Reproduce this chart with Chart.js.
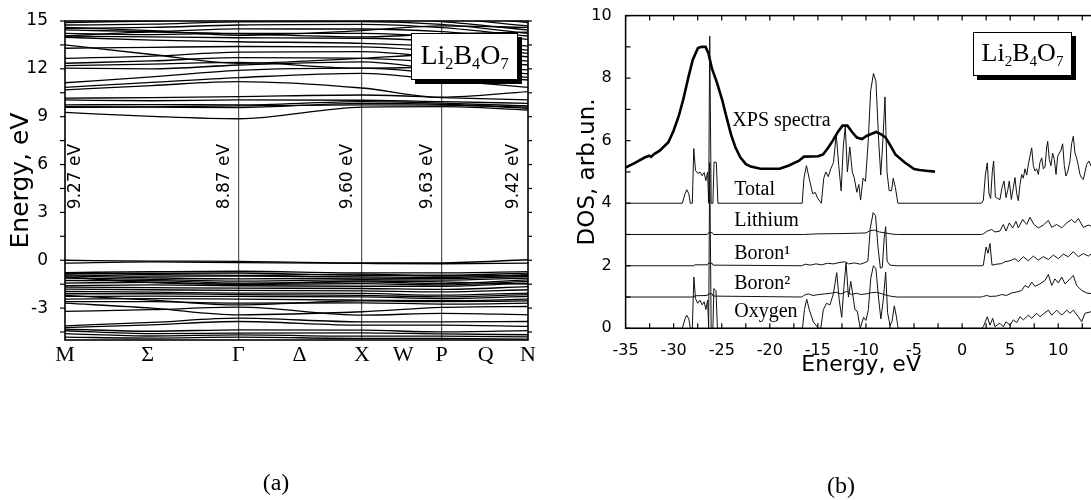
<!DOCTYPE html>
<html lang="en">
<head>
<meta charset="UTF-8">
<title>Li2B4O7 bands and DOS</title>
<script src="https://cdn.jsdelivr.net/npm/chart.js"></script>
<style>
  html, body { margin: 0; padding: 0; background: #fff; }
  body { width: 1091px; height: 500px; overflow: hidden; position: relative; }
  canvas { position: absolute; top: 0; }
  #bandChart { left: 0; }
  #dosChart { left: 545px; }
  .formula {
    position: absolute; box-sizing: border-box; background: #fff;
    border: 1px solid #000; box-shadow: 4px 4px 0 #000;
    font-family: 'Liberation Serif', 'Times New Roman', serif;
    text-align: center; color: #000;
  }
  .formula sub { font-size: 0.58em; vertical-align: baseline; position: relative; top: 0.3em; }
  #fA { left: 411px; top: 33px; width: 107px; height: 47px; font-size: 28px; line-height: 42px; }
  #fB { left: 973px; top: 32px; width: 99px; height: 44px; font-size: 26px; line-height: 39px; }
  .cap { position: absolute; font-family: 'Liberation Serif', 'Times New Roman', serif; font-size: 24px; transform: translate(-50%, -50%); }
  #capA { left: 276px; top: 482px; }
  #capB { left: 841px; top: 485px; }
</style>
</head>
<body>
<canvas id="bandChart" width="545" height="500"></canvas>
<canvas id="dosChart" width="600" height="500"></canvas>
<div class="formula" id="fA">Li<sub>2</sub>B<sub>4</sub>O<sub>7</sub></div>
<div class="formula" id="fB">Li<sub>2</sub>B<sub>4</sub>O<sub>7</sub></div>
<div class="cap" id="capA">(a)</div>
<div class="cap" id="capB">(b)</div>
<script>
// ---- panel (a): band structure ----
// k positions of the sampled points: M, mid of Σ, Γ, X, P, N
const kPos = [0, 0.5, 1, 1.712, 2.172, 2.670];
const kTickPos = [0, 0.477, 1, 1.353, 1.712, 1.950, 2.172, 2.426, 2.670];
const kTickLabels = ['M', 'Σ', 'Γ', 'Δ', 'X', 'W', 'P', 'Q', 'N'];
const kLinePos = [1, 1.712, 2.172];
const bandTicks = [-3, 0, 3, 6, 9, 12, 15];
const bandMinorTicks = [-4.5, -3, -1.5, 0, 1.5, 3, 4.5, 6, 7.5, 9, 10.5, 12, 13.5, 15];
const gapPos = [0, 1, 1.712, 2.172, 2.670];
const gapLabels = ['9.27 eV', '8.87 eV', '9.60 eV', '9.63 eV', '9.42 eV'];

// energies (eV) of each band at kPos
const conductionBands = [
  [9.27, 9.02, 8.87, 9.60, 9.63, 9.42],
  [9.63, 9.60, 9.57, 9.84, 9.78, 9.53],
  [9.58, 9.62, 9.68, 9.74, 9.72, 9.60],
  [9.74, 9.76, 9.74, 9.94, 9.85, 9.67],
  [10.05, 10.0, 10.05, 10.03, 9.94, 9.84],
  [10.16, 10.2, 10.26, 10.36, 10.2, 10.05],
  [10.68, 10.95, 11.2, 10.8, 10.22, 10.57],
  [10.84, 11.15, 11.45, 11.72, 11.3, 10.84],
  [11.13, 11.5, 11.9, 12.04, 11.7, 11.3],
  [12.04, 12.0, 12.24, 12.44, 11.95, 11.47],
  [12.2, 12.3, 12.4, 12.04, 12.1, 11.68],
  [12.35, 12.5, 12.7, 12.66, 12.4, 11.93],
  [12.66, 12.8, 13.05, 13.08, 12.7, 12.24],
  [13.5, 12.9, 12.35, 12.66, 12.9, 12.49],
  [13.29, 13.35, 13.4, 13.38, 13.1, 12.76],
  [13.98, 13.8, 13.7, 13.6, 13.4, 12.97],
  [14.06, 14.0, 13.95, 13.92, 13.7, 13.18],
  [14.23, 14.15, 14.23, 14.23, 14.0, 13.43],
  [14.44, 14.35, 14.5, 14.5, 14.33, 13.85],
  [14.54, 14.6, 14.75, 14.79, 14.58, 14.06],
  [14.75, 14.8, 14.95, 14.96, 14.79, 14.23],
  [14.9, 15.0, 15.1, 15.2, 14.96, 14.44],
  [15.3, 15.2, 15.3, 15.4, 15.2, 14.69],
  [15.5, 15.4, 15.5, 15.5, 15.4, 14.9],
  [14.06, 14.3, 14.2, 14.0, 14.2, 14.3],
  [14.6, 14.4, 14.1, 14.4, 14.7, 14.6]
];
const valenceBands = [
  [0.0, -0.05, -0.07, -0.16, -0.16, 0.03],
  [-0.18, -0.10, -0.15, -0.20, -0.22, -0.18],
  [-0.77, -0.72, -0.69, -0.79, -0.79, -0.71],
  [-0.80, -0.90, -0.95, -0.87, -1.0, -0.95],
  [-0.85, -0.82, -0.80, -0.94, -0.94, -0.81],
  [-0.92, -1.0, -1.0, -1.04, -1.08, -0.91],
  [-0.98, -1.1, -1.17, -1.12, -1.15, -1.02],
  [-1.05, -1.4, -1.5, -1.3, -1.35, -1.5],
  [-1.12, -1.2, -1.31, -1.21, -1.25, -1.12],
  [-1.27, -1.28, -1.43, -1.35, -1.46, -1.23],
  [-1.43, -1.38, -1.52, -1.46, -1.55, -1.33],
  [-1.60, -1.55, -1.60, -1.63, -1.63, -1.43],
  [-1.69, -1.72, -1.75, -1.77, -1.83, -1.65],
  [-1.81, -1.85, -1.89, -1.92, -1.98, -1.85],
  [-1.96, -2.0, -2.06, -2.08, -2.19, -2.06],
  [-2.10, -2.10, -2.15, -2.20, -2.29, -2.16],
  [-2.20, -2.5, -2.8, -2.55, -2.6, -2.55],
  [-2.27, -2.25, -2.27, -2.29, -2.40, -2.27],
  [-2.44, -2.40, -2.44, -2.50, -2.54, -2.44],
  [-2.59, -2.60, -2.69, -2.67, -2.75, -2.69],
  [-2.69, -3.0, -3.42, -3.23, -2.96, -2.9],
  [-3.21, -3.1, -2.94, -3.44, -3.33, -3.42],
  [-4.11, -3.9, -3.63, -3.86, -3.86, -3.84],
  [-4.22, -4.05, -3.84, -4.07, -4.07, -4.15],
  [-4.32, -4.45, -4.36, -4.38, -4.49, -4.41],
  [-4.42, -4.6, -4.57, -4.55, -4.62, -4.67],
  [-4.60, -4.75, -4.68, -4.76, -4.76, -4.80],
  [-4.82, -4.88, -4.82, -4.90, -4.90, -4.95]
];

// ---- panel (b): DOS, pairs [energy eV, value] ----
const xpsSpectrum = [[-35,5.14],[-33.98,5.3],[-32.97,5.47],[-32.54,5.52],[-32.36,5.48],[-32.0,5.58],[-31.45,5.68],[-30.55,5.95],[-30.01,6.32],[-29.47,6.79],[-29.0,7.32],[-28.49,8.0],[-28.02,8.58],[-27.48,8.96],[-27.12,9.0],[-26.68,9.0],[-26.39,8.8],[-26.03,8.32],[-25.49,7.85],[-24.95,7.3],[-24.58,6.84],[-24.04,6.2],[-23.57,5.78],[-23.07,5.47],[-22.49,5.25],[-21.98,5.17],[-20.97,5.1],[-18.98,5.1],[-18.08,5.2],[-17.0,5.35],[-16.45,5.49],[-14.97,5.5],[-14.46,5.56],[-13.92,5.78],[-13.45,6.0],[-12.94,6.27],[-12.44,6.48],[-11.93,6.48],[-11.42,6.27],[-10.95,6.1],[-10.41,6.05],[-9.94,6.15],[-9.4,6.22],[-8.93,6.28],[-8.42,6.2],[-7.95,6.1],[-7.45,5.84],[-6.94,5.56],[-5.96,5.3],[-4.99,5.09],[-4.45,5.06],[-3.54,5.03],[-2.82,5.01]];

const totalDos = [[-35,0],[-29.1,0],[-28.82,0.3],[-28.63,0.43],[-28.42,0.3],[-28.27,0],[-28.06,0],[-27.91,1.75],[-27.73,1.05],[-27.48,0.95],[-27.26,1.0],[-27.04,0.88],[-26.83,0.98],[-26.65,0.72],[-26.47,1.0],[-26.36,0],[-26.25,5.35],[-26.1,0],[-25.92,0],[-25.8,1.32],[-25.56,1.3],[-25.4,0],
  [-16.63,0],[-16.45,0.8],[-16.19,1.2],[-15.91,0.8],[-15.54,0.3],[-15.29,0.35],[-15.0,0.15],[-14.64,0],[-14.39,0.8],[-14.17,1.0],[-13.92,0.85],[-13.66,1.1],[-13.38,1.3],[-13.09,2.2],[-12.83,1.2],[-12.58,0.4],[-12.36,1.8],[-12.15,2.45],[-11.93,1.0],[-11.68,1.8],[-11.42,1.0],[-11.21,0.8],[-10.95,0.35],[-10.74,0.6],[-10.56,0.1],[-10.3,0.8],[-10.05,0.7],[-9.76,2.0],[-9.51,3.6],[-9.22,4.15],[-8.96,3.9],[-8.68,2.0],[-8.46,0.9],[-8.24,2.0],[-8.02,3.4],[-7.81,1.0],[-7.59,0.4],[-7.34,0.4],[-7.16,0.8],[-6.94,0.5],[-6.68,0],
  [2.03,0],[2.21,0.1],[2.42,0.9],[2.62,1.29],[2.8,0.3],[2.97,0.15],[3.14,1.0],[3.28,1.35],[3.46,0.2],[3.7,0.15],[3.94,0.12],[4.15,0.5],[4.36,0.71],[4.57,0.18],[4.74,0.4],[4.91,0.71],[5.12,0.12],[5.33,0.5],[5.5,0.82],[5.68,0.3],[5.85,0.08],[6.02,0.6],[6.2,0.92],[6.37,0.8],[6.54,1.1],[6.72,0.9],[6.89,1.24],[7.06,1.5],[7.24,1.77],[7.41,1.2],[7.58,1.03],[7.76,1.1],[7.93,0.92],[8.1,1.3],[8.28,1.45],[8.45,1.1],[8.62,1.15],[8.8,1.8],[8.9,1.98],[9.07,1.4],[9.24,1.2],[9.42,1.6],[9.59,1.4],[9.77,0.92],[9.94,1.5],[10.11,1.6],[10.29,1.7],[10.46,1.9],[10.63,1.2],[10.8,0.87],[10.98,1.0],[11.22,1.35],[11.39,1.9],[11.57,2.14],[11.74,1.6],[11.91,1.45],[12.09,1.2],[12.26,0.92],[12.44,0.8],[12.61,0.76],[12.78,1.0],[12.96,1.24],[13.2,1.35],[13.41,1.2],[13.7,1.45],[14,1.3]];

const lithiumDos = [[-35,0],[-26.5,0],[-26.35,0.06],[-26.0,0.06],[-25.85,0],[-16.5,0],[-15,0.02],[-12.5,0.03],[-11,0.04],[-10,0.05],[-9.6,0.12],[-9.1,0.14],[-8.6,0.08],[-8.0,0.05],[-7.2,0.01],[-6.7,0],
  [2.03,0],[2.21,0.02],[2.62,0.11],[3.07,0.16],[3.42,0.08],[3.94,0.11],[4.29,0.32],[4.57,0.11],[4.91,0.37],[5.26,0.21],[5.6,0.42],[5.85,0.21],[6.3,0.48],[6.72,0.32],[7.06,0.55],[7.47,0.32],[7.93,0.21],[8.45,0.3],[8.97,0.45],[9.32,0.23],[9.84,0.32],[10.36,0.21],[10.88,0.37],[11.39,0.48],[11.74,0.37],[12.09,0.51],[12.61,0.23],[13.13,0.3],[13.41,0.27],[14,0.35]];

const boron1Dos = [[-35,0],[-27.9,0],[-27.8,0.03],[-26.5,0.03],[-26.4,0.08],[-26.0,0.08],[-25.9,0.02],[-16.7,0],[-16.3,0.05],[-15.8,0.02],[-15.2,0.06],[-14.6,0.03],[-14.0,0.08],[-13.4,0.06],[-12.8,0.1],[-12.2,0.13],[-11.8,0.06],[-11.2,0.09],[-10.6,0.05],[-10.1,0.1],[-9.8,0.15],[-9.55,1.2],[-9.25,1.7],[-9.0,1.6],[-8.75,0.6],[-8.5,-0.08],[-8.3,-0.05],[-8.1,0.9],[-7.95,1.25],[-7.8,0.15],[-7.5,0.02],[-6.8,0],
  [2.03,0],[2.21,0.02],[2.49,0.6],[2.7,0.4],[2.9,0.71],[3.11,0.02],[3.59,0.05],[4.11,0.07],[4.46,0.13],[4.98,0.16],[5.5,0.23],[5.85,0.13],[6.37,0.29],[6.89,0.16],[7.41,0.31],[7.93,0.18],[8.45,0.29],[8.97,0.2],[9.49,0.34],[10.01,0.23],[10.53,0.37],[11.05,0.29],[11.57,0.45],[12.09,0.29],[12.61,0.39],[13.13,0.31],[13.41,0.37],[14,0.3]];

const boron2Dos = [[-35,0],[-27.9,0],[-27.8,0.04],[-26.5,0.05],[-26.4,0.1],[-26.0,0.1],[-25.9,0.03],[-16.7,0],[-16.4,0.06],[-16.0,0.1],[-15.5,0.05],[-14.9,0.08],[-14.3,0.1],[-13.7,0.12],[-13.1,0.15],[-12.6,0.1],[-12.0,0.18],[-11.5,0.08],[-11.0,0.12],[-10.5,0.08],[-10.0,0.1],[-9.4,0.14],[-8.9,0.15],[-8.3,0.1],[-7.8,0.05],[-7.3,0.02],[-6.8,0],
  [2.03,0],[2.21,0.02],[2.56,0.05],[2.9,0.02],[3.59,0.03],[4.11,0.08],[4.63,0.05],[5.15,0.13],[5.68,0.16],[6.2,0.21],[6.54,0.37],[6.89,0.3],[7.24,0.48],[7.58,0.34],[8.1,0.42],[8.62,0.53],[8.97,0.72],[9.32,0.37],[9.66,0.58],[10.01,0.45],[10.36,0.64],[10.71,0.42],[11.22,0.58],[11.57,0.69],[11.91,0.37],[12.44,0.21],[12.96,0.13],[13.41,0.11],[14,0.15]];

const oxygenDos = [[-35,0],[-29.1,0],[-28.82,0.3],[-28.65,0.42],[-28.42,0.3],[-28.27,0],[-28.06,0],[-27.9,1.64],[-27.73,0.95],[-27.5,0.8],[-27.26,0.9],[-27.04,0.75],[-26.83,0.85],[-26.65,0.6],[-26.47,0.9],[-26.36,0],[-26.25,5.3],[-26.1,0],[-25.92,0],[-25.82,1.27],[-25.6,1.2],[-25.45,0],
  [-16.6,0],[-16.4,0.6],[-16.16,0.93],[-15.9,0.6],[-15.47,0.2],[-15.2,0.1],[-14.96,0],[-14.7,0],[-14.43,0.6],[-14.1,0.8],[-13.75,0.75],[-13.39,1.1],[-13.04,1.78],[-12.78,0.9],[-12.52,0.35],[-12.3,1.3],[-12.07,2.1],[-11.82,1.0],[-11.58,1.5],[-11.38,1.1],[-11.15,0.6],[-10.9,0.55],[-10.6,0],[-10.25,0.35],[-10.0,0.25],[-9.75,0.6],[-9.5,1.6],[-9.22,2.0],[-8.96,1.9],[-8.7,1.0],[-8.45,0.3],[-8.2,0.9],[-7.95,1.8],[-7.75,0.5],[-7.5,0.1],[-7.3,0.2],[-7.05,0.72],[-6.85,0.4],[-6.65,0],
  [2.03,0],[2.21,0.05],[2.62,0.37],[2.9,0.1],[3.18,0.32],[3.42,0.05],[3.7,0.12],[3.94,0.16],[4.29,0.05],[4.57,0.21],[4.98,0.1],[5.33,0.27],[5.68,0.18],[6.02,0.37],[6.37,0.27],[6.89,0.42],[7.24,0.32],[7.76,0.48],[8.1,0.37],[8.62,0.5],[8.97,0.58],[9.32,0.42],[9.84,0.58],[10.36,0.42],[10.88,0.58],[11.22,0.48],[11.57,0.58],[12.09,0.37],[12.44,0.21],[12.78,0.48],[13.41,0.53],[14,0.4]];

const dosNames = ['Total', 'Lithium', 'Boron¹', 'Boron²', 'Oxygen'];
const dosOffsets = [4, 3, 2, 1, 0];
const dosLabelLevels = [4.43, 3.45, 2.4, 1.41, 0.52];
const dosXTicks = [-35, -30, -25, -20, -15, -10, -5, 0, 5, 10];
const dosXMinor = [-35,-32.5,-30,-27.5,-25,-22.5,-20,-17.5,-15,-12.5,-10,-7.5,-5,-2.5,0,2.5,5,7.5,10,12.5];
const dosYTicks = [0, 2, 4, 6, 8, 10];
const dosYMinor = [0, 1, 2, 3, 4, 5, 6, 7, 8, 9, 10];

const SANS = "'DejaVu Sans', sans-serif";
const SERIF = "'Liberation Serif', 'Times New Roman', serif";

// frame + tick marks drawn through the scales
const framePlugin = {
  id: 'frame',
  afterDatasetsDraw(chart, args, opts) {
    const { ctx, chartArea: a, scales } = chart;
    ctx.save();
    ctx.strokeStyle = '#000';
    ctx.lineWidth = opts.width;
    ctx.strokeRect(a.left, a.top, a.right - a.left, a.bottom - a.top);
    ctx.lineWidth = 1.2;
    for (const m of opts.marks) {
      const s = scales[m.scale];
      for (const v of m.values) {
        const p = s.getPixelForValue(v);
        ctx.beginPath();
        if (m.side === 'left') { ctx.moveTo(a.left, p); ctx.lineTo(a.left + m.len, p); }
        if (m.side === 'right') { ctx.moveTo(a.right, p); ctx.lineTo(a.right - m.len, p); }
        if (m.side === 'bottom') { ctx.moveTo(p, a.bottom); ctx.lineTo(p, a.bottom - m.len); }
        if (m.side === 'top') { ctx.moveTo(p, a.top); ctx.lineTo(p, a.top + m.len); }
        ctx.stroke();
      }
    }
    ctx.restore();
  }
};

// free text placed at data coordinates
const notesPlugin = {
  id: 'notes',
  afterDatasetsDraw(chart, args, opts) {
    const { ctx, scales } = chart;
    ctx.save();
    ctx.fillStyle = '#000';
    for (const n of opts.items) {
      const x = scales.x.getPixelForValue(n.x) + (n.dx || 0);
      const y = scales.y.getPixelForValue(n.y);
      ctx.save();
      ctx.translate(x, y);
      if (n.rot) ctx.rotate(n.rot);
      ctx.font = n.font;
      ctx.textAlign = n.align;
      ctx.textBaseline = 'middle';
      ctx.fillText(n.text, 0, 0);
      ctx.restore();
    }
    ctx.restore();
  }
};

const bandSets = conductionBands.concat(valenceBands).map(b => ({
  data: kPos.map((k, i) => ({ x: k, y: b[i] })),
  borderColor: '#000',
  borderWidth: 1.3,
  pointRadius: 0,
  cubicInterpolationMode: 'monotone',
  fill: false
}));

const gapOffsets = [11, -14, -14, -14.5, -14];

new Chart(document.getElementById('bandChart'), {
  type: 'line',
  data: { datasets: bandSets },
  options: {
    responsive: false,
    animation: false,
    layout: { padding: { top: 21, right: 17, left: 0, bottom: 0 } },
    plugins: {
      legend: { display: false },
      tooltip: { enabled: false },
      frame: {
        width: 1.6,
        marks: [
          { scale: 'y', side: 'left', values: bandMinorTicks, len: -5 },
          { scale: 'y', side: 'right', values: bandMinorTicks, len: -4 }
        ]
      },
      notes: {
        items: gapLabels.map((t, i) => ({
          text: t, x: gapPos[i], y: 5.25, dx: gapOffsets[i], rot: -Math.PI / 2,
          font: '17px ' + SANS, align: 'center'
        }))
      }
    },
    scales: {
      x: {
        type: 'linear', min: 0, max: 2.670,
        afterBuildTicks: s => { s.ticks = kTickPos.map(v => ({ value: v })); },
        afterFit: s => { s.height = 160; },
        ticks: { autoSkip: false, maxRotation: 0, padding: 2, color: '#000',
                 font: { family: SERIF, size: 22 }, callback: (v, i) => kTickLabels[i] },
        grid: { drawTicks: false, lineWidth: 1.2,
                color: c => (c.tick && kLinePos.includes(c.tick.value)) ? '#555' : 'rgba(0,0,0,0)' },
        border: { display: false }
      },
      y: {
        type: 'linear', min: -5, max: 15,
        afterBuildTicks: s => { s.ticks = bandTicks.map(v => ({ value: v })); },
        afterFit: s => { s.width = 65; },
        ticks: { padding: 9, color: '#000', font: { family: SANS, size: 17 } },
        grid: { display: false },
        border: { display: false },
        title: { display: true, text: 'Energy, eV', color: '#000',
                 font: { family: SANS, size: 25 }, padding: { top: 6 } }
      }
    }
  },
  plugins: [framePlugin, notesPlugin]
});

const partials = [totalDos, lithiumDos, boron1Dos, boron2Dos, oxygenDos];
const dosSets = partials.map((curve, j) => ({
  data: curve.map(p => ({ x: p[0], y: p[1] + dosOffsets[j] })),
  borderColor: '#111',
  borderWidth: 1,
  pointRadius: 0,
  tension: 0,
  fill: false
}));
dosSets.push({
  data: xpsSpectrum.map(p => ({ x: p[0], y: p[1] })),
  borderColor: '#000',
  borderWidth: 2.6,
  pointRadius: 0,
  tension: 0,
  fill: false
});

const dosNotes = dosNames.map((t, j) => ({ text: t, x: -23.7, y: dosLabelLevels[j], font: '20px ' + SERIF, align: 'left' }));
dosNotes.push({ text: 'XPS spectra', x: -23.9, y: 6.63, font: '20px ' + SERIF, align: 'left' });

new Chart(document.getElementById('dosChart'), {
  type: 'line',
  data: { datasets: dosSets },
  options: {
    responsive: false,
    animation: false,
    layout: { padding: { top: 14, right: 48.3, left: 0, bottom: 0 } },
    plugins: {
      legend: { display: false },
      tooltip: { enabled: false },
      frame: {
        width: 1.5,
        marks: [
          { scale: 'x', side: 'bottom', values: dosXMinor, len: 5 },
          { scale: 'x', side: 'top', values: dosXMinor, len: 5 },
          { scale: 'y', side: 'left', values: dosYMinor, len: 5 },
          { scale: 'y', side: 'right', values: dosYMinor, len: 5 }
        ]
      },
      notes: { items: dosNotes }
    },
    scales: {
      x: {
        type: 'linear', min: -35, max: 14,
        afterBuildTicks: s => { s.ticks = dosXTicks.map(v => ({ value: v })); },
        afterFit: s => { s.height = 171.7; },
        ticks: { autoSkip: false, maxRotation: 0, padding: 5, color: '#000',
                 font: { family: SANS, size: 16 }, callback: v => String(v) },
        grid: { display: false },
        border: { display: false },
        title: { display: true, text: 'Energy, eV', color: '#000',
                 font: { family: SANS, size: 22 }, padding: { bottom: 122 } }
      },
      y: {
        type: 'linear', min: 0, max: 10,
        afterBuildTicks: s => { s.ticks = dosYTicks.map(v => ({ value: v })); },
        afterFit: s => { s.width = 80.6; },
        ticks: { padding: 6, color: '#000', font: { family: SANS, size: 16 } },
        grid: { display: false },
        border: { display: false },
        title: { display: true, text: 'DOS, arb.un.', color: '#000',
                 font: { family: SANS, size: 23 }, padding: { top: 29 } }
      }
    }
  },
  plugins: [framePlugin, notesPlugin]
});
</script>
</body>
</html>
